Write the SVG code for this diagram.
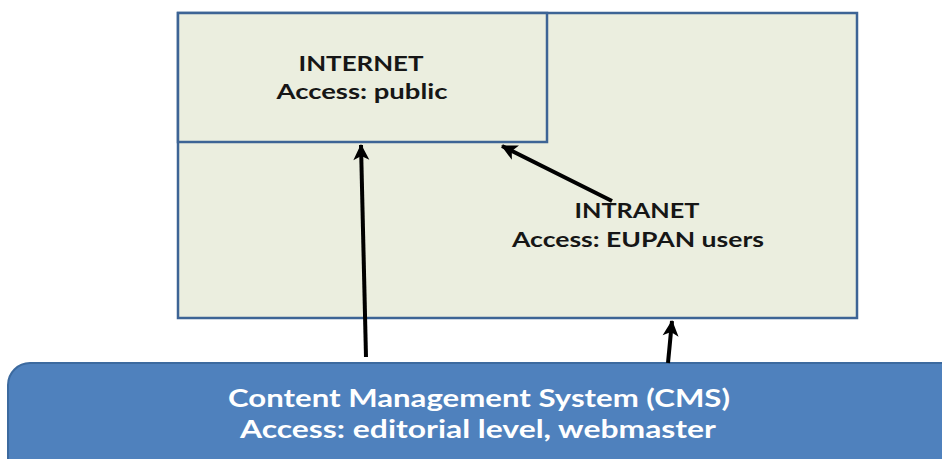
<svg xmlns="http://www.w3.org/2000/svg" width="942" height="459" viewBox="0 0 942 459">
<style>
.box{fill:#EBEEDF;stroke:#3D6495;stroke-width:2.5}
.t{font-family:Lato,"Liberation Sans",sans-serif;font-weight:bold;fill:#161616;font-size:21px}
.w{font-family:Lato,"Liberation Sans",sans-serif;font-weight:bold;fill:#FFFFFF;font-size:24px}
.c{stroke:#000;stroke-width:4;fill:none;marker-end:url(#ah)}
</style>
<defs>
<marker id="ah" markerUnits="userSpaceOnUse" viewBox="-16 -10 18 20" refX="0" refY="0" markerWidth="18" markerHeight="20" orient="auto">
<path d="M-15,-8 L1,0 L-15,8 L-11,0 Z" fill="#000"/>
</marker>
</defs>
<rect width="942" height="459" fill="#FFFFFF"/>
<g id="intranet">
<rect class="box" x="178" y="13" width="679" height="305"/>
<text class="t" x="637" y="218" text-anchor="middle" textLength="125" lengthAdjust="spacingAndGlyphs">INTRANET</text>
<text class="t" x="638" y="247" text-anchor="middle" textLength="252" lengthAdjust="spacingAndGlyphs">Access: EUPAN users</text>
</g>
<g id="internet">
<rect class="box" x="178" y="13" width="369" height="129"/>
<text class="t" x="361" y="71" text-anchor="middle" textLength="125" lengthAdjust="spacingAndGlyphs">INTERNET</text>
<text class="t" x="362" y="99" text-anchor="middle" textLength="171" lengthAdjust="spacingAndGlyphs">Access: public</text>
</g>
<g id="cms">
<rect x="8" y="363" width="960" height="140" rx="22" ry="22" fill="#4F81BD" stroke="#3C6A9F" stroke-width="2"/>
<text class="w" x="479" y="407" text-anchor="middle" textLength="502" lengthAdjust="spacingAndGlyphs">Content Management System (CMS)</text>
<text class="w" x="478" y="438" text-anchor="middle" textLength="476" lengthAdjust="spacingAndGlyphs">Access: editorial level, webmaster</text>
</g>
<g id="connectors">
<line class="c" x1="366" y1="357" x2="361" y2="145"/>
<line class="c" x1="668" y1="363" x2="672" y2="321"/>
<line class="c" x1="612" y1="201" x2="502" y2="146"/>
</g>
</svg>
